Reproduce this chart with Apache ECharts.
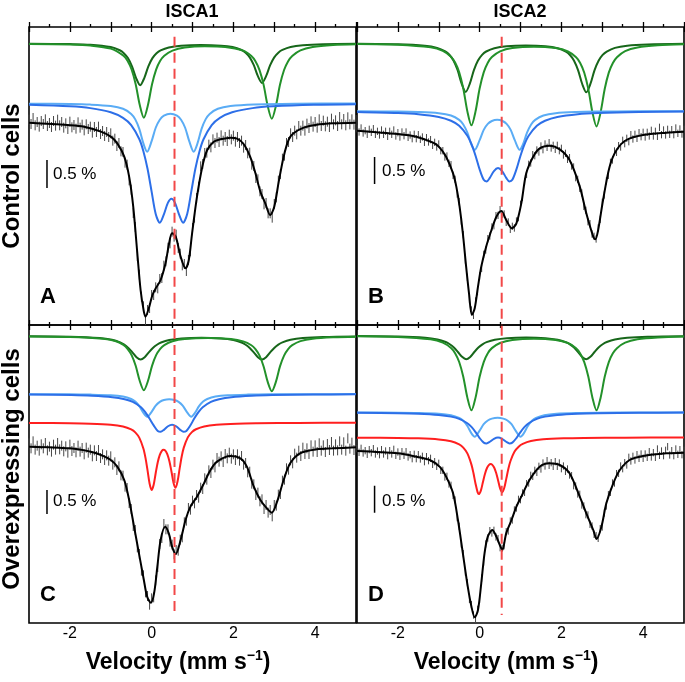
<!DOCTYPE html>
<html><head><meta charset="utf-8">
<script src="https://cdn.jsdelivr.net/npm/echarts@6/dist/echarts.min.js"></script>
<style>html,body{margin:0;padding:0;background:#fff}#chart{width:685px;height:682px}</style>
</head><body><div id="chart"></div>
<script>
// ---------- DATA (velocity in mm/s, absorption in a.u., larger = deeper) ----------
const velocity = [
-3.00,-2.95,-2.90,-2.85,-2.80,-2.75,-2.70,-2.65,-2.60,-2.55,
-2.50,-2.45,-2.40,-2.35,-2.30,-2.25,-2.20,-2.15,-2.10,-2.05,
-2.00,-1.95,-1.90,-1.85,-1.80,-1.75,-1.70,-1.65,-1.60,-1.55,
-1.50,-1.45,-1.40,-1.35,-1.30,-1.25,-1.20,-1.15,-1.10,-1.05,
-1.00,-0.95,-0.90,-0.85,-0.80,-0.75,-0.70,-0.65,-0.60,-0.55,
-0.50,-0.45,-0.40,-0.35,-0.30,-0.25,-0.20,-0.15,-0.10,-0.05,
0.00,0.05,0.10,0.15,0.20,0.25,0.30,0.35,0.40,0.45,
0.50,0.55,0.60,0.65,0.70,0.75,0.80,0.85,0.90,0.95,
1.00,1.05,1.10,1.15,1.20,1.25,1.30,1.35,1.40,1.45,
1.50,1.55,1.60,1.65,1.70,1.75,1.80,1.85,1.90,1.95,
2.00,2.05,2.10,2.15,2.20,2.25,2.30,2.35,2.40,2.45,
2.50,2.55,2.60,2.65,2.70,2.75,2.80,2.85,2.90,2.95,
3.00,3.05,3.10,3.15,3.20,3.25,3.30,3.35,3.40,3.45,
3.50,3.55,3.60,3.65,3.70,3.75,3.80,3.85,3.90,3.95,
4.00,4.05,4.10,4.15,4.20,4.25,4.30,4.35,4.40,4.45,
4.50,4.55,4.60,4.65,4.70,4.75,4.80,4.85,4.90,4.95,
5.00];

const dataA = [
278,291,273,295,285,299,282,291,277,297,
288,300,282,296,278,295,285,302,289,306,
284,301,294,305,286,302,293,310,292,306,
299,317,300,315,299,321,312,327,315,330,
319,341,335,357,348,373,375,407,413,460,
488,558,600,687,743,809,838,879,849,843,
804,804,781,784,756,753,716,703,662,649,
614,629,623,663,680,715,711,732,699,673,
603,572,513,479,418,411,378,377,353,361,
337,348,332,345,325,341,330,342,323,337,
326,344,330,348,341,362,354,379,377,413,
417,453,457,493,501,532,528,559,559,572,
531,511,461,441,395,386,348,345,319,330,
311,322,297,311,296,311,290,303,283,299,
285,302,277,297,281,298,284,300,275,292,
280,297,270,292,276,295,271,292,277,293,
279];
const dataB = [
305,315,303,318,311,322,307,316,305,322,
313,324,309,322,313,328,313,322,309,327,
317,330,315,326,315,331,324,335,322,335,
323,337,330,346,332,345,338,355,346,360,
351,371,371,390,387,409,413,445,457,501,
524,582,623,699,751,818,849,865,822,794,
747,724,682,669,635,627,600,596,566,565,
548,562,561,586,585,607,598,603,582,572,
532,511,464,442,412,408,383,386,369,375,
357,368,351,361,347,363,355,367,355,371,
364,384,379,397,392,417,420,452,457,484,
498,538,550,584,590,621,628,636,603,577,
526,504,462,445,406,399,372,376,356,360,
340,350,334,344,323,336,322,334,317,329,
316,330,316,327,310,327,313,328,301,323,
309,324,307,322,308,323,303,319,306,321,
307];
const dataC = [
355,370,349,374,362,377,358,370,354,376,
365,380,359,374,354,373,362,379,364,383,
359,378,369,382,362,380,369,388,368,383,
374,394,376,393,375,399,388,405,391,407,
394,419,412,435,424,451,452,485,489,534,
552,603,615,667,687,737,751,802,813,839,
820,817,766,726,657,639,597,613,613,650,
659,688,675,677,644,637,592,587,549,554,
527,535,510,518,488,492,460,464,436,444,
419,427,399,410,394,411,387,400,383,401,
388,405,388,407,393,419,414,442,440,476,
478,510,503,529,523,552,540,563,555,574,
540,542,509,507,467,464,430,434,406,415,
386,398,377,393,368,387,370,387,361,380,
361,381,355,377,361,381,357,375,351,377,
358,376,349,374,352,377,340,371,353,375,
356];
const dataD = [
371,382,370,384,377,388,374,383,371,387,
378,389,374,387,378,392,377,387,373,391,
381,394,380,391,380,396,389,401,388,401,
389,402,394,410,395,407,400,418,410,424,
415,436,436,456,454,477,481,511,525,578,
604,657,686,741,773,823,839,870,882,853,
823,759,711,657,639,617,624,616,636,641,
668,670,662,620,618,588,585,555,549,523,
524,504,502,476,474,451,454,436,442,424,
432,414,423,407,421,413,424,410,424,414,
431,423,439,432,450,452,482,483,507,508,
540,543,569,570,598,603,628,632,640,611,
606,564,543,509,502,474,474,446,445,423,
431,413,420,397,408,394,405,389,400,387,
400,387,397,380,396,383,397,372,391,378,
392,376,365,390,377,392,372,388,374,389,
376];
const errorHalf = [15, 11, 15, 11];

const fitA = [[-3.0,287],[-2.06,294],[-1.65,299],[-1.24,314],[-1.0,329],[-0.84,349],[-0.67,389],[-0.55,449],[-0.45,539],[-0.35,679],[-0.27,789],[-0.19,854],[-0.15,869],[-0.07,844],[0.02,804],[0.10,784],[0.22,759],[0.34,709],[0.42,654],[0.50,619],[0.59,629],[0.71,689],[0.83,724],[0.91,699],[0.99,619],[1.11,509],[1.24,419],[1.36,369],[1.52,344],[1.68,337],[1.93,332],[2.09,335],[2.25,351],[2.41,389],[2.54,439],[2.66,494],[2.78,529],[2.90,564],[3.0,539],[3.11,464],[3.23,389],[3.35,339],[3.47,319],[3.72,302],[4.04,293],[4.45,289],[5.0,287]];
const fitB = [[-3.0,311],[-2.0,321],[-1.55,329],[-1.14,347],[-1.0,359],[-0.82,389],[-0.65,439],[-0.57,479],[-0.49,539],[-0.41,619],[-0.33,719],[-0.26,799],[-0.19,864],[-0.12,844],[-0.04,779],[0.04,719],[0.16,659],[0.29,609],[0.41,569],[0.53,552],[0.65,579],[0.79,604],[0.90,589],[1.02,529],[1.14,439],[1.31,389],[1.47,364],[1.71,356],[1.96,367],[2.20,399],[2.45,479],[2.61,559],[2.78,629],[2.83,637],[2.90,609],[3.02,519],[3.18,419],[3.35,369],[3.59,339],[4.0,324],[4.57,317],[5.0,314]];
const fitC = [[-3.0,365],[-2.0,370],[-1.49,380],[-1.24,390],[-1.0,405],[-0.84,425],[-0.67,465],[-0.55,525],[-0.43,605],[-0.31,685],[-0.19,765],[-0.11,815],[-0.02,833],[0.06,805],[0.14,725],[0.22,645],[0.33,605],[0.42,625],[0.50,665],[0.59,687],[0.71,645],[0.83,585],[0.95,545],[1.11,515],[1.28,475],[1.44,435],[1.60,410],[1.93,393],[2.17,400],[2.33,425],[2.50,485],[2.66,525],[2.82,550],[2.94,563],[3.07,530],[3.23,465],[3.39,415],[3.63,385],[4.04,373],[4.45,370],[5.0,367]];
const fitD = [[-3.0,378],[-2.0,385],[-1.55,395],[-1.22,405],[-0.98,425],[-0.82,455],[-0.65,505],[-0.53,585],[-0.41,685],[-0.29,785],[-0.20,845],[-0.12,877],[-0.04,855],[0.04,775],[0.12,685],[0.20,635],[0.31,615],[0.41,635],[0.51,665],[0.555,675],[0.65,625],[0.78,585],[0.90,545],[1.02,515],[1.22,465],[1.47,425],[1.71,415],[1.96,420],[2.20,445],[2.45,515],[2.61,565],[2.78,615],[2.86,642],[2.98,605],[3.10,535],[3.27,475],[3.43,435],[3.67,405],[4.0,393],[4.57,385],[5.0,383]];

const greenDarkA = [[-3.0,50],[-2.0,51.3],[-1.5,53.1],[-1.0,60.1],[-0.78,69.7],[-0.68,78.5],[-0.58,93.2],[-0.48,118],[-0.38,153.1],[-0.28,174.5],[-0.18,153.1],[-0.08,118],[0.02,93.4],[0.12,78.6],[0.22,70],[0.42,61.3],[0.72,56.2],[1.2,54.2],[1.7,56],[1.98,60.3],[2.2,69.1],[2.3,77.4],[2.4,91.2],[2.5,114.5],[2.6,147.6],[2.7,167.8],[2.8,147.5],[2.9,114.4],[3.0,91],[3.1,77],[3.2,68.9],[3.4,60],[3.7,54.9],[4.2,51.8],[5.0,50.3]];
const greenA = [[-3.0,50.7],[-2.0,52.7],[-1.5,55.6],[-1.0,65],[-0.69,85.8],[-0.59,101.3],[-0.49,127.6],[-0.39,171.6],[-0.29,234],[-0.19,272],[-0.09,234],[0.01,171.7],[0.11,127.7],[0.21,101.5],[0.31,86.2],[0.51,70.8],[0.81,61.7],[1.3,57.8],[1.8,59.8],[2.24,71],[2.44,87.1],[2.54,102.7],[2.64,129.3],[2.74,173.7],[2.84,236.9],[2.94,275.3],[3.04,236.8],[3.14,173.5],[3.24,129.1],[3.34,102.5],[3.44,86.8],[3.64,69.9],[3.94,60],[4.44,54.3],[5.0,52]];
const lightBlueA = [[-3.0,230],[-2.0,231.2],[-1.5,232.8],[-1.0,237.2],[-0.7,245.4],[-0.5,260.7],[-0.4,277.1],[-0.3,306.3],[-0.2,349.9],[-0.11,374.2],[0.0,342.4],[0.1,302.3],[0.2,278.3],[0.3,265.9],[0.46,260],[0.62,265.9],[0.72,278.3],[0.82,302.3],[0.92,342.4],[1.03,374.2],[1.12,349.9],[1.22,306.3],[1.32,277.1],[1.42,260.7],[1.62,245.4],[1.93,237.2],[2.5,232.4],[3.5,230.3],[5.0,229.6]];
const blueA = [[-3.0,233.5],[-2.0,238.1],[-1.5,243.4],[-1.0,255.7],[-0.7,272.6],[-0.5,294.5],[-0.3,336.8],[-0.2,373.3],[-0.1,425.3],[0.0,494],[0.1,561],[0.2,587.2],[0.3,562],[0.4,527],[0.485,515],[0.57,527],[0.67,562],[0.77,587.2],[0.87,561],[0.97,494],[1.07,425.3],[1.17,373.3],[1.27,336.8],[1.47,294.5],[1.67,272.6],[1.97,255.7],[2.47,243.4],[2.97,238.1],[3.97,233.5],[5.0,231.7]];

const greenDarkB = [[-3.0,50.2],[-2.0,51.8],[-1.34,56.2],[-1.04,62.6],[-0.84,73.1],[-0.74,83.3],[-0.64,100.4],[-0.54,129.1],[-0.44,169.9],[-0.34,194.7],[-0.24,169.9],[-0.14,129.3],[-0.04,100.6],[0.06,83.5],[0.16,73.5],[0.36,63.5],[0.66,57.5],[1.13,55.4],[1.61,57.5],[1.91,63.5],[2.11,73.9],[2.21,84],[2.31,101.1],[2.41,130],[2.51,171],[2.61,195.9],[2.71,170.9],[2.81,129.9],[2.91,101],[3.01,83.8],[3.11,73.6],[3.31,62.6],[3.61,56.2],[4.11,52.5],[5.0,50.5]];
const greenB = [[-3.0,50.9],[-2.0,53.1],[-1.2,61],[-0.9,71.8],[-0.7,89.6],[-0.6,106.7],[-0.5,135.7],[-0.4,184.3],[-0.3,253.1],[-0.2,295],[-0.1,253.2],[0.0,184.5],[0.1,136],[0.2,107],[0.3,90.1],[0.5,73.1],[0.8,63.1],[1.33,59],[1.86,63.3],[2.16,73.4],[2.36,90.9],[2.46,108],[2.56,137.2],[2.66,186.3],[2.76,255.9],[2.86,298.2],[2.96,255.8],[3.06,186.1],[3.16,136.9],[3.26,107.8],[3.36,90.5],[3.56,72.1],[3.86,61.2],[4.36,54.8],[5.0,52.1]];
const lightBlueB = [[-3.0,252.8],[-2.0,253.8],[-1.5,255.1],[-1.0,258.7],[-0.7,265.6],[-0.5,278.6],[-0.4,292.5],[-0.3,317.1],[-0.2,352.5],[-0.12,368.6],[0.0,339.6],[0.1,308.6],[0.2,290.7],[0.3,281.9],[0.43,278.4],[0.56,281.9],[0.66,290.7],[0.76,308.6],[0.86,339.6],[0.98,368.6],[1.06,352.5],[1.16,317.1],[1.26,292.5],[1.36,278.6],[1.56,265.6],[1.86,258.7],[2.36,255.1],[2.86,253.8],[3.86,252.8],[5.0,252.5]];
const blueB = [[-3.0,254.9],[-2.0,257.9],[-1.5,261.4],[-1.0,269.7],[-0.7,281.2],[-0.5,296.5],[-0.3,326.2],[-0.2,351.4],[-0.1,386.1],[0.0,427.2],[0.1,458.6],[0.17,463.5],[0.25,452.4],[0.35,432.2],[0.45,423.3],[0.55,432.2],[0.65,452.4],[0.73,463.5],[0.8,458.6],[0.9,427.2],[1.0,386.1],[1.1,351.4],[1.2,326.2],[1.4,296.5],[1.6,281.2],[1.9,269.7],[2.4,261.4],[2.9,257.9],[3.9,254.9],[5.0,253.6]];

const greenDarkC = [[-3.0,34],[-2.0,35.3],[-1.27,39.2],[-0.97,44.4],[-0.77,52.1],[-0.67,58.9],[-0.57,68.6],[-0.47,82],[-0.37,96.6],[-0.27,103.7],[-0.17,96.7],[-0.07,82.1],[0.03,68.8],[0.13,59.2],[0.23,52.5],[0.43,45.1],[0.73,40.4],[1.22,38.4],[1.70,40.4],[2.0,45.1],[2.2,52.5],[2.3,59.2],[2.4,68.8],[2.5,82.2],[2.6,96.7],[2.7,103.7],[2.8,96.7],[2.9,82.1],[3.0,68.7],[3.1,59],[3.2,52.2],[3.4,44.4],[3.7,39.3],[4.2,36.1],[5.0,34.5]];
const greenC = [[-3.0,34.2],[-2.0,35.7],[-1.19,41],[-0.89,48.1],[-0.69,59.8],[-0.59,71.3],[-0.49,90.3],[-0.39,122.4],[-0.29,168],[-0.19,195.7],[-0.09,168],[0.01,122.6],[0.11,90.5],[0.21,71.5],[0.31,60.2],[0.51,48.9],[0.81,42.2],[1.38,39.3],[1.94,42.3],[2.24,49.2],[2.44,60.8],[2.54,72.4],[2.64,91.8],[2.74,124.3],[2.84,170.7],[2.94,198.8],[3.04,170.6],[3.14,124.2],[3.24,91.7],[3.34,72.3],[3.44,60.6],[3.64,48.4],[3.94,41],[4.44,36.9],[5.0,35.2]];
const lightBlueC = [[-3.0,207.5],[-2.0,208],[-1.5,208.8],[-1.0,210.8],[-0.7,214.7],[-0.5,221.9],[-0.4,229.6],[-0.3,243.3],[-0.2,263.8],[-0.11,275.2],[0.0,260.4],[0.1,241.7],[0.2,230.6],[0.3,225.1],[0.43,222.9],[0.56,225.1],[0.66,230.6],[0.76,241.7],[0.86,260.4],[0.97,275.2],[1.06,263.8],[1.16,243.3],[1.26,229.6],[1.36,221.9],[1.56,214.7],[1.86,210.8],[2.36,208.8],[2.86,208],[3.86,207.5],[5.0,207.3]];
const blueC = [[-3.0,208.5],[-1.96,210.1],[-1.46,212.1],[-0.96,216.5],[-0.66,222.7],[-0.46,230.8],[-0.26,246.8],[-0.16,260.4],[-0.06,279],[0.05,301],[0.15,317.9],[0.22,320.5],[0.3,314.5],[0.4,303.7],[0.5,299],[0.6,303.7],[0.7,314.5],[0.78,320.5],[0.85,317.9],[0.95,301],[1.05,279],[1.15,260.4],[1.25,246.8],[1.45,230.8],[1.65,222.7],[1.95,216.5],[2.45,212.1],[2.95,210.1],[3.95,208.6],[5.0,207.9]];
const redC = [[-3.0,293.8],[-2.0,294.8],[-1.5,296],[-1.0,299.1],[-0.7,304.5],[-0.5,313.2],[-0.4,322.1],[-0.3,338.5],[-0.2,371.1],[-0.15,398.8],[-0.1,436],[-0.05,475.4],[0.0,495],[0.05,479.2],[0.1,444],[0.15,411.5],[0.2,389.7],[0.25,377.7],[0.29,374.6],[0.335,377],[0.385,387.9],[0.435,408.6],[0.485,439.4],[0.535,473],[0.585,488],[0.635,469],[0.685,431.1],[0.735,395.3],[0.785,368.5],[0.885,337.1],[0.985,321.3],[1.085,312.8],[1.285,304.2],[1.585,299.1],[2.085,295.9],[2.585,294.8],[3.585,293.8],[5.0,293.5]];

const greenDarkD = [[-3.0,33.1],[-2.0,34.5],[-1.33,38.2],[-1.03,43.4],[-0.83,51.1],[-0.73,57.8],[-0.63,67.6],[-0.53,81],[-0.43,95.6],[-0.33,102.7],[-0.23,95.7],[-0.13,81.1],[-0.03,67.8],[0.07,58.1],[0.17,51.5],[0.37,44.1],[0.67,39.4],[1.14,37.6],[1.61,39.4],[1.91,44.1],[2.11,51.5],[2.21,58.1],[2.31,67.8],[2.41,81.2],[2.51,95.7],[2.61,102.7],[2.71,95.6],[2.81,81],[2.91,67.6],[3.01,57.8],[3.11,51.1],[3.31,43.4],[3.61,38.2],[4.11,35],[5.0,33.4]];
const greenD = [[-3.0,33.7],[-2.0,35.8],[-1.2,43],[-0.9,52.8],[-0.7,68.9],[-0.6,84.6],[-0.5,111],[-0.4,155.1],[-0.3,217.9],[-0.2,256],[-0.1,217.9],[0.0,155.3],[0.1,111.2],[0.2,84.9],[0.3,69.4],[0.5,54],[0.8,44.8],[1.33,41],[1.86,44.8],[2.16,54],[2.36,69.6],[2.46,85.2],[2.56,111.4],[2.66,155.4],[2.76,218],[2.86,256.1],[2.96,218],[3.06,155.3],[3.16,111.3],[3.26,85.1],[3.36,69.4],[3.56,52.9],[3.86,43],[4.36,37.3],[5.0,34.8]];
const lightBlueD = [[-3.0,262.5],[-2.0,263.1],[-1.5,263.9],[-1.0,266.2],[-0.7,270.5],[-0.5,278.7],[-0.4,287.5],[-0.3,302.9],[-0.2,325.2],[-0.12,335.3],[0.0,317],[0.1,297.6],[0.2,286.4],[0.3,280.8],[0.44,278.4],[0.58,280.8],[0.68,286.4],[0.78,297.6],[0.88,317],[1.0,335.3],[1.08,325.2],[1.18,302.9],[1.28,287.5],[1.38,278.7],[1.58,270.5],[1.88,266.2],[2.38,263.9],[2.88,263.1],[3.88,262.5],[5.0,262.3]];
const blueD = [[-3.0,263.3],[-2.0,264.6],[-1.5,266.1],[-1.0,269.8],[-0.7,274.9],[-0.5,281.6],[-0.3,294.7],[-0.2,305.8],[-0.1,321.1],[0.0,339.2],[0.1,353],[0.17,355.2],[0.25,350.3],[0.35,341.4],[0.45,337.5],[0.55,341.4],[0.65,350.3],[0.73,355.2],[0.8,353],[0.9,339.2],[1.0,321.1],[1.1,305.8],[1.2,294.7],[1.4,281.6],[1.6,274.9],[1.9,269.8],[2.4,266.1],[2.9,264.6],[3.9,263.3],[5.0,262.7]];
const redD = [[-3.0,337.9],[-2.0,338.9],[-1.5,340.1],[-1.0,343.4],[-0.7,349],[-0.5,358.4],[-0.4,368],[-0.3,385.3],[-0.2,418.8],[-0.15,445],[-0.1,476],[-0.05,501.4],[-0.02,507.2],[0.03,496.8],[0.08,471.7],[0.13,446.8],[0.18,429.1],[0.23,419.5],[0.27,417.3],[0.305,418.9],[0.355,427.6],[0.405,444.2],[0.455,467.8],[0.505,491.8],[0.555,501.7],[0.605,487.7],[0.655,459.3],[0.705,430.6],[0.755,408],[0.855,379.7],[0.955,365],[1.055,356.7],[1.255,348.3],[1.555,343.1],[2.055,340],[2.555,338.8],[3.555,337.9],[5.0,337.5]];

const referenceVelocity = [0.56, 0.54, 0.56, 0.54];
const xTickLabels = [-2, 0, 2, 4];
const columnTitles = ['ISCA1', 'ISCA2'];
const rowTitles = ['Control cells', 'Overexpressing cells'];
const panelLetters = ['A', 'B', 'C', 'D'];
const scaleLabel = '0.5 %';

// ---------- STYLE / LAYOUT ----------
const FONT = '"Liberation Sans", Arial, Helvetica, sans-serif';
const C = {dg:'#17661a', mg:'#23912a', lb:'#5aacf5', bl:'#2d6fe8', red:'#ff1f1f', dash:'#f24848'};
const YMAX = 894;
const gridPos = [{left:29, top:27}, {left:357, top:27}, {left:29, top:325}, {left:357, top:325}];
const panels = [
  {comps:[[greenDarkA,C.dg],[greenA,C.mg],[lightBlueA,C.lb],[blueA,C.bl]], fit:fitA, data:dataA, refY:[29,894], bar:{v:-2.56,y:[399,483]}, txt:[53,174], letter:[48,297]},
  {comps:[[greenDarkB,C.dg],[greenB,C.mg],[lightBlueB,C.lb],[blueB,C.bl]], fit:fitB, data:dataB, refY:[29,894], bar:{v:-2.57,y:[390,471]}, txt:[382,171], letter:[376,297]},
  {comps:[[greenDarkC,C.dg],[greenC,C.mg],[lightBlueC,C.lb],[blueC,C.bl],[redC,C.red]], fit:fitC, data:dataC, refY:[12,876], bar:{v:-2.56,y:[495,567]}, txt:[53,501], letter:[48,595]},
  {comps:[[greenDarkD,C.dg],[greenD,C.mg],[lightBlueD,C.lb],[blueD,C.bl],[redD,C.red]], fit:fitD, data:dataD, refY:[2,870], bar:{v:-2.57,y:[482,563]}, txt:[382,501], letter:[376,595]}
];

const grids = [], xAxes = [], yAxes = [], series = [], graphics = [];
const tickStyle = {color:'#000', width:1.3};
panels.forEach((p, g) => {
  const bottomRow = g >= 2;
  grids.push({left:gridPos[g].left, top:gridPos[g].top, width:327, height:298, show:true,
    borderColor:'#000', borderWidth:1.6, backgroundColor:'transparent', containLabel:false, outerBoundsMode:'none'});
  xAxes.push({type:'value', gridIndex:g, position:'bottom', min:-3, max:5, interval:1,
    axisLine:{show:false}, splitLine:{show:false},
    axisTick:{show:true, inside:true, length:5, lineStyle:tickStyle},
    minorTick:{show:true, splitNumber:2, length:3, lineStyle:tickStyle},
    axisLabel: bottomRow ? {show:true, fontSize:16, color:'#000', fontFamily:FONT, margin:3,
      showMinLabel:true, showMaxLabel:true, hideOverlap:false,
      formatter:(v)=> xTickLabels.indexOf(v) >= 0 ? String(v) : ''} : {show:false}});
  xAxes.push({type:'value', gridIndex:g, position:'top', min:-3, max:5, interval:1,
    axisLine:{show:false}, splitLine:{show:false},
    axisTick:{show:true, inside:true, length:5, lineStyle:tickStyle},
    minorTick:{show:bottomRow, splitNumber:2, length:3, lineStyle:tickStyle},
    axisLabel:{show:false}});
  yAxes.push({type:'value', gridIndex:g, min:0, max:YMAX, inverse:true, show:false});
  const xi = 2*g;
  p.comps.forEach(([d, col]) => {
    series.push({type:'line', xAxisIndex:xi, yAxisIndex:g, data:d, showSymbol:false, symbol:'none',
      smooth:0.3, lineStyle:{color:col, width:2}, silent:true, animation:false, z:2});
  });
  const half = errorHalf[g];
  series.push({type:'custom', xAxisIndex:xi, yAxisIndex:g, silent:true, animation:false, z:3,
    data: velocity.map((v, i) => [v, p.data[i]]),
    renderItem:(params, api) => {
      const v = api.value(0), y = api.value(1);
      const a = api.coord([v, y - half]), b = api.coord([v, y + half]);
      return {type:'line', shape:{x1:a[0], y1:a[1], x2:b[0], y2:b[1]}, style:{stroke:'#474747', lineWidth:1}};
    }});
  series.push({type:'line', xAxisIndex:xi, yAxisIndex:g, data:p.fit, showSymbol:false, symbol:'none',
    smooth:0.3, lineStyle:{color:'#000', width:2}, silent:true, animation:false, z:4});
  series.push({type:'line', xAxisIndex:xi, yAxisIndex:g,
    data:[[referenceVelocity[g], p.refY[0]], [referenceVelocity[g], p.refY[1]]],
    showSymbol:false, symbol:'none', lineStyle:{color:C.dash, width:2, type:[10,6]}, silent:true, animation:false, z:5});
  series.push({type:'line', xAxisIndex:xi, yAxisIndex:g,
    data:[[p.bar.v, p.bar.y[0]], [p.bar.v, p.bar.y[1]]],
    showSymbol:false, symbol:'none', lineStyle:{color:'#000', width:1.5}, silent:true, animation:false, z:5});
  graphics.push({type:'text', x:p.txt[0], y:p.txt[1], style:{text:scaleLabel, font:'17px ' + FONT,
    fill:'#000', align:'left', verticalAlign:'middle', textAlign:'left', textVerticalAlign:'middle'}});
  graphics.push({type:'text', x:p.letter[0], y:p.letter[1], style:{text:panelLetters[g], font:'bold 22px ' + FONT,
    fill:'#000', align:'center', verticalAlign:'middle', textAlign:'center', textVerticalAlign:'middle'}});
});

[[192,12],[520,12]].forEach((pos, i) => graphics.push({type:'text', x:pos[0], y:pos[1],
  style:{text:columnTitles[i], font:'bold 18px ' + FONT, fill:'#000', align:'center', verticalAlign:'middle', textAlign:'center', textVerticalAlign:'middle'}}));
[[12,176],[12,469]].forEach((pos, i) => graphics.push({type:'text', x:pos[0], y:pos[1], rotation:Math.PI/2,
  style:{text:rowTitles[i], font:'bold 24px ' + FONT, fill:'#000', align:'center', verticalAlign:'middle', textAlign:'center', textVerticalAlign:'middle'}}));
[[178,663],[506,663]].forEach(pos => graphics.push({type:'text', x:pos[0], y:pos[1],
  style:{text:'{a|Velocity (mm s}{b|−1}{a|)}', align:'center', verticalAlign:'middle', textAlign:'center', textVerticalAlign:'middle',
    rich:{a:{font:'bold 23px ' + FONT, fill:'#000', lineHeight:28}, b:{font:'bold 14px ' + FONT, fill:'#000', verticalAlign:'top', lineHeight:28}}}}));

const chart = echarts.init(document.getElementById('chart'), null, {renderer:'canvas', width:685, height:682});
chart.setOption({animation:false, backgroundColor:'#fff', grid:grids, xAxis:xAxes, yAxis:yAxes, series:series, graphic:graphics});
</script></body></html>
